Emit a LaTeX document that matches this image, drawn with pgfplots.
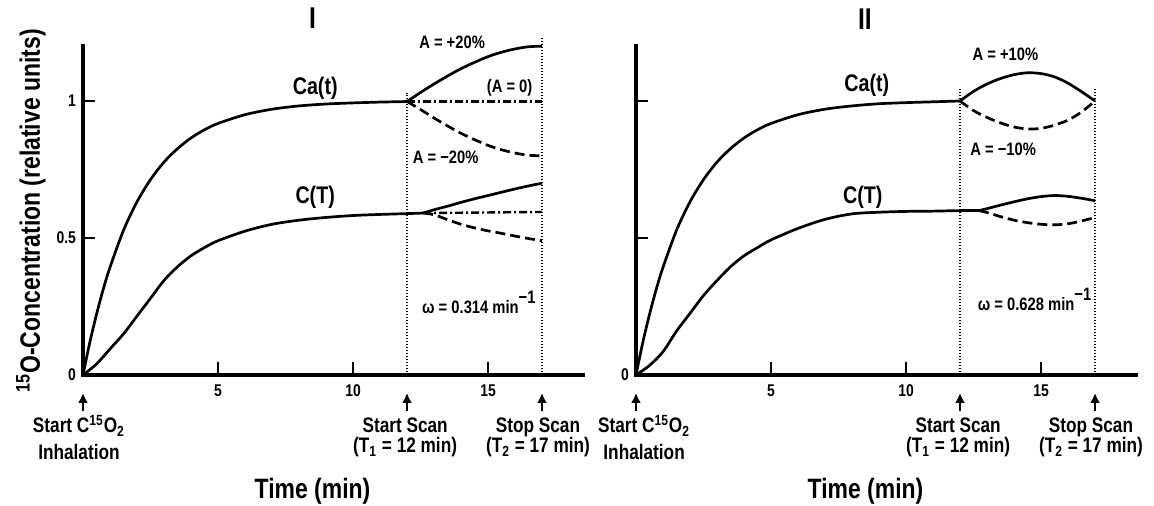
\documentclass[border=0pt]{standalone}
\usepackage{fontspec}
\setmainfont{Liberation Sans}[FakeStretch=0.82]
\usepackage{pgfplots}
\pgfplotsset{compat=1.18}
\usetikzlibrary{arrows.meta}

\newcommand{\fs}[1]{\fontsize{#1}{#1}\selectfont\bfseries}

\pgfplotsset{
  panel/.style={
    x=13.5pt, y=137pt, anchor=south west,
    xmin=0, xmax=18.5, ymin=0, ymax=1.2,
    axis x line*=bottom, axis y line*=left,
    axis line style={-, line width=2.4pt, line cap=rect},
    xtick={5,10,15}, ytick={0,0.5,1},
    tick align=inside, major tick length=6pt,
    major tick style={black, line width=1.3pt},
    tick label style={font=\fs{8.5}},
    /pgf/number format/assume math mode=true,
    xticklabel style={yshift=-1.5pt},
    clip=false,
  },
  curve/.style={black, line width=1.35pt, smooth, no marks},
  dashcurve/.style={curve, dash pattern=on 5pt off 2.5pt},
  dotdash/.style={black, line width=1.2pt, no marks, dash pattern=on 4pt off 1.5pt on 1pt off 1.5pt},
  scanline/.style={black, line width=0.6pt, no marks, dash pattern=on 0.6pt off 0.9pt},
}

% arrow at #1, two text lines centred at #2 under the time axis
\newcommand{\event}[4]{%
  \draw[line width=1.3pt, -{Latex[length=5pt,width=5pt]}]
    ([yshift=-18pt]axis cs:#1,0) -- ([yshift=-9pt]axis cs:#1,0);
  \node[anchor=base, font=\fs{10.5}] at ([yshift=-29pt]axis cs:#2,0) {#3};
  \node[anchor=base, font=\fs{10.5}] at ([yshift=-39pt]axis cs:#2,0) {#4};
}

\begin{document}
\begin{tikzpicture}

% ---------------- panel I ----------------
\begin{axis}[panel, at={(41.5pt,65.5pt)}]
\addplot[scanline] coordinates {(12,0)(12,1.03)};
\addplot[scanline] coordinates {(17,0)(17,1.23)};
% Ca(t)
\addplot[curve] coordinates {(0,0)(0.25,0.118)(0.5,0.221)(0.75,0.313)(1,0.393)(1.5,0.528)(2,0.632)(2.5,0.713)(3,0.777)(3.5,0.826)(4,0.865)(4.5,0.895)(5,0.918)(6,0.950)(7,0.970)(8,0.982)(9,0.989)(10,0.993)(11,0.996)(12,0.998)};
\addplot[curve] coordinates {(12,0.998)(12.5,1.031)(13,1.062)(13.5,1.091)(14,1.118)(14.5,1.141)(15,1.162)(15.5,1.178)(16,1.190)(16.5,1.198)(17,1.200)};
\addplot[dotdash] coordinates {(12,0.998)(17,0.998)};
\addplot[dashcurve] coordinates {(12,0.998)(12.5,0.969)(13,0.938)(13.5,0.909)(14,0.882)(14.5,0.859)(15,0.838)(15.5,0.822)(16,0.810)(16.5,0.802)(17,0.800)};
% C(T)
\addplot[curve] coordinates {(0,0)(0.5,0.04)(1,0.095)(1.5,0.15)(2,0.215)(2.5,0.28)(3,0.345)(3.5,0.395)(4,0.435)(4.5,0.465)(5,0.49)(6,0.525)(7,0.55)(8,0.565)(9,0.575)(10,0.582)(11,0.586)(12,0.589)(12.6,0.591)};
\addplot[curve] coordinates {(12.6,0.591)(13,0.603)(13.5,0.616)(14,0.63)(14.5,0.643)(15,0.655)(15.5,0.667)(16,0.679)(16.5,0.69)(17,0.70)};
\addplot[dotdash] coordinates {(12.6,0.591)(17,0.595)};
\addplot[dashcurve] coordinates {(12.6,0.591)(13,0.585)(13.5,0.567)(14,0.55)(14.5,0.537)(15,0.526)(15.5,0.517)(16,0.507)(16.5,0.498)(17,0.49)};

% upward tick marks on the time axis
\draw[line width=1.4pt] (axis cs:5,0) -- ++(0pt,6.5pt);
\draw[line width=1.4pt] (axis cs:10,0) -- ++(0pt,6.5pt);
\draw[line width=1.4pt] (axis cs:15,0) -- ++(0pt,6.5pt);
\node[font=\fs{15}] at (axis cs:8.5,1.303) {I};
\node[rotate=90, font=\fs{14}] at (axis cs:-1.93,0.599) {\textsuperscript{15}O-Concentration (relative units)};
\node[font=\fs{12}] at (axis cs:8.6,1.047) {Ca(t)};
\node[font=\fs{12}] at (axis cs:8.6,0.65) {C(T)};
\node[font=\fs{9}] at (axis cs:13.67,1.215) {A = +20\%};
\node[font=\fs{9}] at (axis cs:15.8,1.047) {(A = 0)};
\node[font=\fs{9}] at (axis cs:13.43,0.795) {A = −20\%};
\node[font=\fs{9}, anchor=west] at (axis cs:12.3,0.266) {ω = 0.314 min\raisebox{5pt}{−1}};

\event{0}{-0.15}{Start C\textsuperscript{15}O\textsubscript{2}}{\raisebox{-3.5pt}{Inhalation}}
\event{12}{11.93}{Start Scan}{(T\textsubscript{1} = 12 min)}
\event{17}{16.85}{Stop Scan}{(T\textsubscript{2} = 17 min)}
\node[anchor=base, font=\fs{14}] at ([yshift=-61.75pt]axis cs:8.5,0) {Time (min)};
\end{axis}

% ---------------- panel II ----------------
\begin{axis}[panel, at={(318pt,65.5pt)}, yticklabels={0,,}]
\addplot[scanline] coordinates {(12,0)(12,1.045)};
\addplot[scanline] coordinates {(17,0)(17,1.045)};
% Ca(t)
\addplot[curve] coordinates {(0,0)(0.25,0.118)(0.5,0.221)(0.75,0.313)(1,0.393)(1.5,0.528)(2,0.632)(2.5,0.713)(3,0.777)(3.5,0.826)(4,0.865)(4.5,0.895)(5,0.918)(6,0.950)(7,0.970)(8,0.982)(9,0.990)(10,0.994)(11,0.997)(12,1.0)};
\addplot[curve] coordinates {(12,1.0)(12.5,1.035)(13,1.062)(13.5,1.082)(14,1.096)(14.5,1.103)(15,1.10)(15.5,1.088)(16,1.065)(16.5,1.034)(17,1.0)};
\addplot[dashcurve] coordinates {(12,1.0)(12.5,0.965)(13,0.94)(13.5,0.92)(14,0.905)(14.5,0.898)(15,0.90)(15.5,0.912)(16,0.93)(16.5,0.96)(17,1.0)};
% C(T)
\addplot[curve] coordinates {(0,0)(0.5,0.035)(1,0.085)(1.5,0.16)(2,0.225)(2.5,0.29)(3,0.345)(3.5,0.395)(4,0.435)(4.5,0.465)(5,0.493)(6,0.535)(7,0.568)(8,0.588)(9,0.594)(10,0.597)(11,0.598)(12,0.60)(12.7,0.60)};
\addplot[curve] coordinates {(12.7,0.60)(13,0.607)(13.5,0.62)(14,0.632)(14.5,0.643)(15,0.651)(15.5,0.655)(16,0.652)(16.5,0.645)(17,0.636)};
\addplot[dashcurve] coordinates {(12.7,0.60)(13,0.593)(13.5,0.578)(14,0.565)(14.5,0.556)(15,0.55)(15.5,0.548)(16,0.552)(16.5,0.562)(17,0.575)};

\draw[line width=1.4pt] (axis cs:5,0) -- ++(0pt,6.5pt);
\draw[line width=1.4pt] (axis cs:10,0) -- ++(0pt,6.5pt);
\draw[line width=1.4pt] (axis cs:15,0) -- ++(0pt,6.5pt);
\node[font=\fs{15}] at (axis cs:8.48,1.30) {II};
\node[font=\fs{12}] at (axis cs:8.55,1.058) {Ca(t)};
\node[font=\fs{12}] at (axis cs:8.4,0.65) {C(T)};
\node[font=\fs{9}] at (axis cs:13.68,1.17) {A = +10\%};
\node[font=\fs{9}] at (axis cs:13.6,0.825) {A = −10\%};
\node[font=\fs{9}, anchor=west] at (axis cs:12.4,0.277) {ω = 0.628 min\raisebox{5pt}{−1}};

\event{0}{0.3}{Start C\textsuperscript{15}O\textsubscript{2}}{\raisebox{-3.5pt}{Inhalation}}
\event{12}{11.93}{Start Scan}{(T\textsubscript{1} = 12 min)}
\event{17}{16.85}{Stop Scan}{(T\textsubscript{2} = 17 min)}
\node[anchor=base, font=\fs{14}] at ([yshift=-61.75pt]axis cs:8.5,0) {Time (min)};
\end{axis}

\pgfresetboundingbox
\useasboundingbox (0,0) rectangle (577pt,253pt);
\end{tikzpicture}
\end{document}
